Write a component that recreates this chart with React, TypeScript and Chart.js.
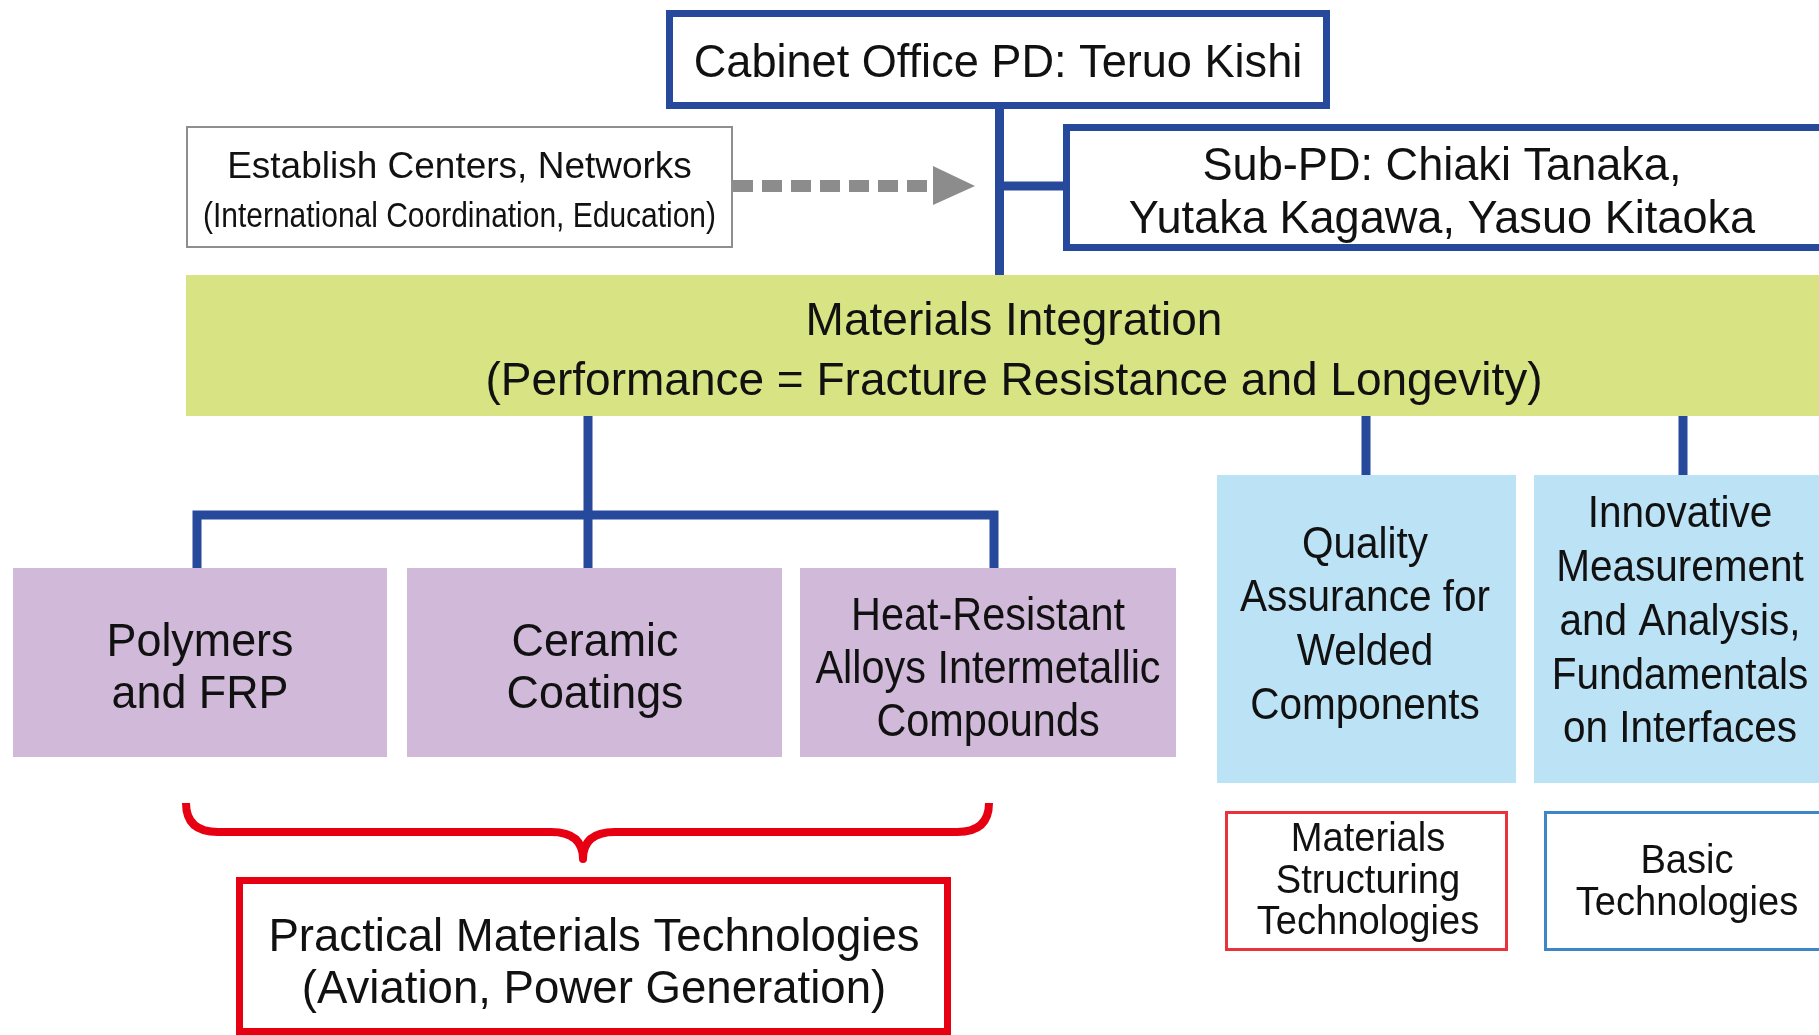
import React, { useEffect, useRef } from 'react';
import { Chart, registerables } from 'chart.js';

Chart.register(...registerables);

// ---------- content (labels) ----------
const directorLabel = ['Cabinet Office PD: Teruo Kishi'];
const subDirectorLabel = ['Sub-PD: Chiaki Tanaka,', 'Yutaka Kagawa, Yasuo Kitaoka'];
const supportLabel = ['Establish Centers, Networks', '(International Coordination, Education)'];
const integrationLabel = ['Materials Integration', '(Performance = Fracture Resistance and Longevity)'];
const practicalThemes = [
  ['Polymers', 'and FRP'],
  ['Ceramic', 'Coatings'],
  ['Heat-Resistant', 'Alloys Intermetallic', 'Compounds'],
];
const basicThemes = [
  ['Quality', 'Assurance for', 'Welded', 'Components'],
  ['Innovative', 'Measurement', 'and Analysis,', 'Fundamentals', 'on Interfaces'],
];
const practicalGroupLabel = ['Practical Materials Technologies', '(Aviation, Power Generation)'];
const structuringGroupLabel = ['Materials', 'Structuring', 'Technologies'];
const basicGroupLabel = ['Basic', 'Technologies'];

// ---------- layout (diagram units = px of the 1819x1035 page) ----------
const W = 1819;
const H = 1035;
const BLUE = '#27499b';
const RED = '#e60012';
const GRAY = '#8c8c8c';
const TEXT = '#111111';
const FONT = '"Liberation Sans", Arial, Helvetica, sans-serif';

type Node = {
  lines: string[];
  rect: [number, number, number, number];
  fill?: string;
  stroke?: string;
  bw?: number;
  cx: number;
  base: number[];
  size: number[];
  k: number[];
};

const nodes: Node[] = [
  { lines: directorLabel, rect: [666, 10, 1330, 109], fill: '#ffffff', stroke: BLUE, bw: 7, cx: 998, base: [77], size: [47], k: [0.96] },
  { lines: subDirectorLabel, rect: [1063, 124, 1840, 251], fill: '#ffffff', stroke: BLUE, bw: 7, cx: 1442, base: [180, 233], size: [47, 47], k: [0.96, 0.96] },
  { lines: supportLabel, rect: [186, 126, 733, 248], fill: '#ffffff', stroke: '#8e8e8e', bw: 2, cx: 459.5, base: [178, 227], size: [37, 35], k: [1.0, 0.856] },
  { lines: integrationLabel, rect: [186, 275, 1840, 416], fill: '#d8e383', cx: 1014, base: [335, 395], size: [46, 46], k: [1.0, 1.0] },
  { lines: practicalThemes[0], rect: [13, 568, 387, 757], fill: '#d0b9d9', cx: 200, base: [656, 708], size: [46, 46], k: [0.975, 0.975] },
  { lines: practicalThemes[1], rect: [407, 568, 782, 757], fill: '#d0b9d9', cx: 595, base: [656, 708], size: [46, 46], k: [0.975, 0.975] },
  { lines: practicalThemes[2], rect: [800, 568, 1176, 757], fill: '#d0b9d9', cx: 988, base: [630, 683, 736], size: [46, 46, 46], k: [0.9, 0.9, 0.9] },
  { lines: basicThemes[0], rect: [1217, 475, 1516, 783], fill: '#bce2f5', cx: 1365, base: [558, 611, 665, 719], size: [45, 45, 45, 45], k: [0.9, 0.9, 0.9, 0.9] },
  { lines: basicThemes[1], rect: [1534, 475, 1840, 783], fill: '#bce2f5', cx: 1680, base: [527, 581, 635, 689, 742], size: [45, 45, 45, 45, 45], k: [0.9, 0.9, 0.9, 0.9, 0.9] },
  { lines: structuringGroupLabel, rect: [1225, 811, 1508, 951], fill: '#ffffff', stroke: '#e8323c', bw: 3, cx: 1368, base: [851, 893, 934], size: [41, 41, 41], k: [0.93, 0.93, 0.93] },
  { lines: basicGroupLabel, rect: [1544, 811, 1840, 951], fill: '#ffffff', stroke: '#3c87c8', bw: 3, cx: 1687, base: [873, 915], size: [41, 41], k: [0.93, 0.93] },
  { lines: practicalGroupLabel, rect: [236, 877, 951, 1035], fill: '#ffffff', stroke: RED, bw: 7, cx: 594, base: [951, 1003], size: [47, 47], k: [0.97, 0.97] },
];

const links: [number, number][][] = [
  [[999.5, 109], [999.5, 275]],
  [[999.5, 186], [1063, 186]],
  [[588, 416], [588, 515]],
  [[197, 568], [197, 515], [994, 515], [994, 568]],
  [[588, 515], [588, 568]],
  [[1366, 416], [1366, 475]],
  [[1683, 416], [1683, 475]],
];
const dashedLink: [number, number][] = [[733, 186], [928, 186]];
const arrowHead: [number, number][] = [[933, 166], [975, 186], [933, 205]];

const diagramPlugin = {
  id: 'diagramBoxes',
  beforeDatasetsDraw(chart: any) {
    const ctx = chart.ctx as CanvasRenderingContext2D;
    const xs = chart.scales.x;
    const ys = chart.scales.y;
    const px = (v: number) => xs.getPixelForValue(v);
    const py = (v: number) => ys.getPixelForValue(v);
    ctx.save();
    ctx.fillStyle = '#ffffff';
    ctx.fillRect(0, 0, chart.width, chart.height);
    for (const n of nodes) {
      const [x0, y0, x1, y1] = n.rect;
      const X0 = px(x0), Y0 = py(y0), X1 = px(x1), Y1 = py(y1);
      if (n.fill) {
        ctx.fillStyle = n.fill;
        ctx.fillRect(X0, Y0, X1 - X0, Y1 - Y0);
      }
      if (n.stroke && n.bw) {
        ctx.strokeStyle = n.stroke;
        ctx.lineWidth = n.bw;
        ctx.lineJoin = 'miter';
        ctx.strokeRect(X0 + n.bw / 2, Y0 + n.bw / 2, X1 - X0 - n.bw, Y1 - Y0 - n.bw);
      }
    }
    // curly brace
    ctx.beginPath();
    ctx.moveTo(px(186), py(803));
    ctx.quadraticCurveTo(px(186), py(832), px(218), py(832));
    ctx.lineTo(px(551), py(832));
    ctx.quadraticCurveTo(px(583), py(832), px(583), py(859));
    ctx.quadraticCurveTo(px(583), py(832), px(615), py(832));
    ctx.lineTo(px(957), py(832));
    ctx.quadraticCurveTo(px(989), py(832), px(989), py(803));
    ctx.strokeStyle = RED;
    ctx.lineWidth = 8;
    ctx.lineJoin = 'round';
    ctx.stroke();
    ctx.restore();
  },
  afterDatasetsDraw(chart: any) {
    const ctx = chart.ctx as CanvasRenderingContext2D;
    const xs = chart.scales.x;
    const ys = chart.scales.y;
    const px = (v: number) => xs.getPixelForValue(v);
    const py = (v: number) => ys.getPixelForValue(v);
    ctx.save();
    ctx.beginPath();
    arrowHead.forEach(([x, y], i) => (i === 0 ? ctx.moveTo(px(x), py(y)) : ctx.lineTo(px(x), py(y))));
    ctx.closePath();
    ctx.fillStyle = GRAY;
    ctx.fill();
    ctx.fillStyle = TEXT;
    ctx.textAlign = 'center';
    ctx.textBaseline = 'alphabetic';
    for (const n of nodes) {
      n.lines.forEach((line, i) => {
        ctx.save();
        ctx.translate(px(n.cx), py(n.base[i]));
        ctx.scale(n.k[i], 1);
        ctx.font = `${n.size[i]}px ${FONT}`;
        ctx.fillText(line, 0, 0);
        ctx.restore();
      });
    }
    ctx.restore();
  },
};

export default function App() {
  const ref = useRef<HTMLCanvasElement | null>(null);
  useEffect(() => {
    if (!ref.current) return;
    const datasets: any[] = links.map((pts) => ({
      data: pts.map(([x, y]) => ({ x, y })),
      showLine: true,
      borderColor: BLUE,
      borderWidth: 9,
      borderCapStyle: 'butt',
      borderJoinStyle: 'miter',
      pointRadius: 0,
      tension: 0,
      fill: false,
    }));
    datasets.push({
      data: dashedLink.map(([x, y]) => ({ x, y })),
      showLine: true,
      borderColor: GRAY,
      borderWidth: 12,
      borderDash: [20, 9],
      borderCapStyle: 'butt',
      pointRadius: 0,
      tension: 0,
      fill: false,
    });
    const chart = new Chart(ref.current, {
      type: 'scatter',
      data: { datasets },
      options: {
        animation: false,
        responsive: false,
        devicePixelRatio: 1,
        events: [],
        layout: { padding: 0, autoPadding: false },
        scales: {
          x: { type: 'linear', min: 0, max: W, display: false },
          y: { type: 'linear', min: 0, max: H, reverse: true, display: false },
        },
        plugins: { legend: { display: false }, tooltip: { enabled: false }, title: { display: false } },
      } as any,
      plugins: [diagramPlugin],
    });
    return () => chart.destroy();
  }, []);
  return (
    <div style={{ position: 'absolute', left: 0, top: 0, width: W, height: H, background: '#fff' }}>
      <canvas ref={ref} width={W} height={H} style={{ display: 'block', width: W, height: H }} />
    </div>
  );
}
